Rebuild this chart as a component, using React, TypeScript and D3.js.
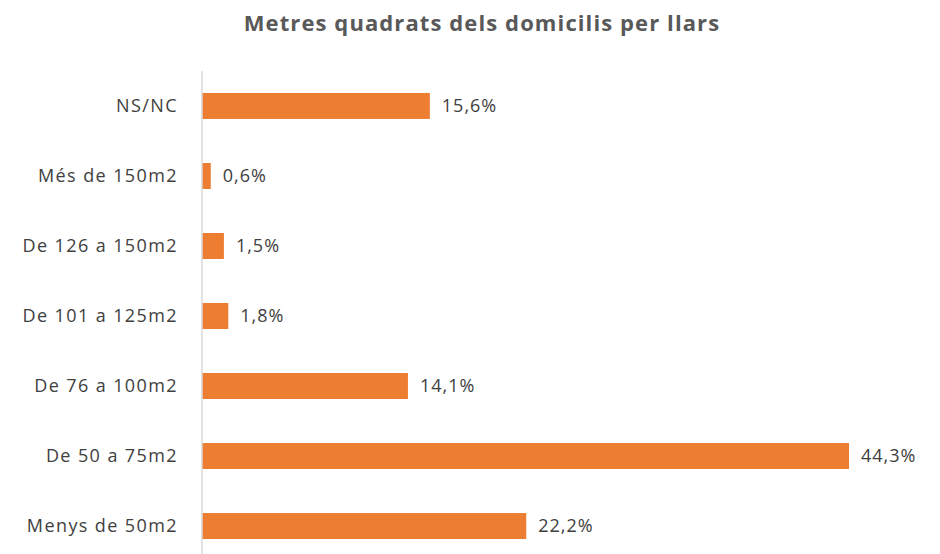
import React, { useEffect, useRef } from 'react';
import * as d3 from 'd3';

// categories top to bottom, values in %
const categories = ['NS/NC', 'Més de 150m2', 'De 126 a 150m2', 'De 101 a 125m2', 'De 76 a 100m2', 'De 50 a 75m2', 'Menys de 50m2'];
const values = [15.6, 0.6, 1.5, 1.8, 14.1, 44.3, 22.2];
const title = 'Metres quadrats dels domicilis per llars';

function App() {
    const ref = useRef<SVGGElement>(null);
    const width = 940;
    const height = 554;
    const margin = { top: 71, right: 90, bottom: 0, left: 202 };

    useEffect(() => {
        const g = d3.select(ref.current);
        g.selectAll('*').remove();

        const y = d3.scaleBand<string>()
            .domain(categories)
            .range([margin.top, 561])
            .paddingInner(0.629)
            .paddingOuter(0.314);

        const x = d3.scaleLinear()
            .domain([0, 44.3])
            .range([margin.left, 849]);

        // title
        g.append('text')
            .attr('x', 482)
            .attr('y', 31)
            .attr('text-anchor', 'middle')
            .attr('font-family', 'Open Sans, sans-serif')
            .attr('font-weight', 'bold')
            .attr('font-size', 22)
            .attr('letter-spacing', 1.1)
            .attr('fill', '#595959')
            .text(title);

        // bars
        g.selectAll('rect.bar')
            .data(values)
            .enter()
            .append('rect')
            .attr('class', 'bar')
            .attr('x', x(0))
            .attr('y', (d, i) => y(categories[i]))
            .attr('width', d => x(d) - x(0))
            .attr('height', y.bandwidth())
            .attr('fill', '#ED7D31');

        // value labels
        g.selectAll('text.val')
            .data(values)
            .enter()
            .append('text')
            .attr('class', 'val')
            .attr('x', d => x(d) + 12)
            .attr('y', (d, i) => y(categories[i]) + y.bandwidth() / 2)
            .attr('dy', '0.35em')
            .attr('font-family', 'Open Sans, sans-serif')
            .attr('font-size', 18)
            .attr('letter-spacing', 1)
            .attr('fill', '#404040')
            .text(d => d.toFixed(1).replace('.', ',') + '%');

        // axis
        const axis = g.append('g')
            .attr('transform', 'translate(' + margin.left + ',0)')
            .call(d3.axisLeft(y).tickSize(0).tickPadding(24));
        axis.select('.domain')
            .attr('d', 'M0,' + margin.top + 'V' + height)
            .attr('stroke', '#D9D9D9')
            .attr('stroke-width', 1.5);
        axis.selectAll('text')
            .attr('font-family', 'Open Sans, sans-serif')
            .attr('font-size', 18)
            .attr('letter-spacing', 1.4)
            .attr('fill', '#404040');
    }, []);

    return (
        <svg width={width} height={height} style={{ position: 'absolute', left: 0, top: 0 }}>
            <g ref={ref} />
        </svg>
    );
}

export default App;
